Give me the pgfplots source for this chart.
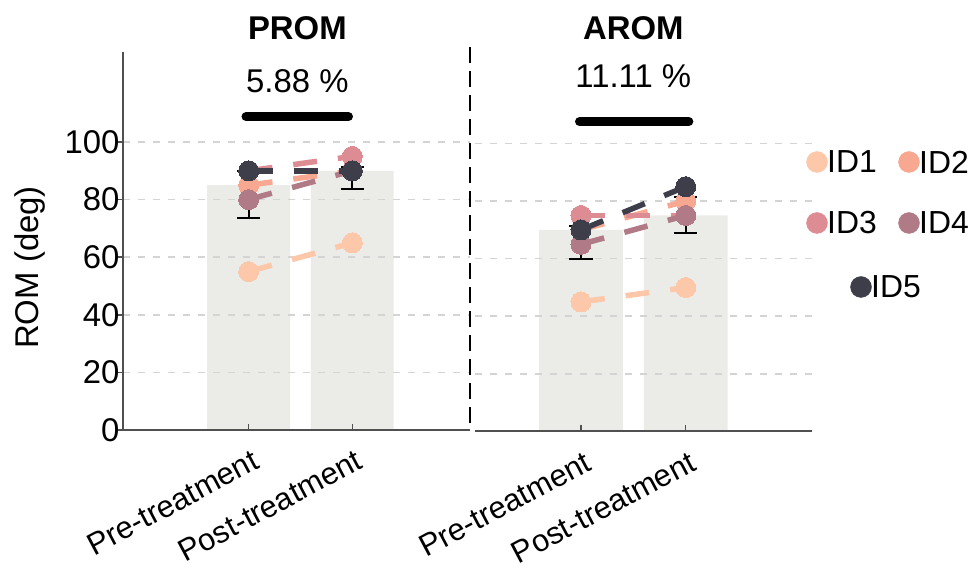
\documentclass[border=0pt]{standalone}
\usepackage{pgfplots}
\pgfplotsset{compat=1.18}
\usepackage{fontspec}
\setmainfont{Liberation Sans}
\newcommand\fs{\fontsize{33}{39}\selectfont}
\newcommand\fx{\fontsize{31}{37}\selectfont}
\newcommand\fl{\fontsize{32}{38}\selectfont}
\definecolor{cA}{HTML}{FDC8AA}
\definecolor{cB}{HTML}{F8A891}
\definecolor{cC}{HTML}{DE8C94}
\definecolor{cD}{HTML}{B07B87}
\definecolor{cE}{HTML}{3E3E4A}
\definecolor{barc}{HTML}{EBEBE7}
\definecolor{axc}{HTML}{505050}
\pgfplotsset{
  myaxis/.style={
    scale only axis, set layers, clip=false,
    anchor=south west,
    axis lines*=left,
    axis line style={line width=2bp, color=axc, -},
    tick align=inside,
    major tick length=6bp,
    tick style={line width=1.5bp, color=axc},
    ymin=0, ymax=131.25, height=378bp,
    ytick={0,20,...,100},
    ymajorgrids,
    major grid style={line width=1.6bp, color=black!17, dash pattern=on 7bp off 8bp},
    xtick={1,2}, xticklabels={Pre-treatment,Post-treatment},
    xticklabel style={xshift=3bp, yshift=-16bp, rotate=28, anchor=north east, font=\fx, inner sep=2bp},
    yticklabel style={font=\fs},
    /pgf/number format/assume math mode=true,
  },
  idline/.style={#1, line width=5.5bp, dash pattern=on 24bp off 21bp, mark=*, mark size=10bp, mark options={solid, line width=0pt}},
  barstyle/.style={ybar, bar width=0.8, fill=barc, draw=none, on layer=axis background},
  errline/.style={black, line width=2bp, mark=none, solid},
}
\begin{document}
\begin{tikzpicture}
% ---------------- PROM ----------------
\begin{axis}[myaxis, at={(123bp,144bp)}, width=347bp,
  xmin=-0.213, xmax=3.136,
  ylabel={\fs ROM (deg)},
  every axis y label/.style={at={(axis description cs:-0.268,0.43)}, rotate=90, anchor=center},
  ytick style={xshift=-6bp},
]
\addplot[barstyle] coordinates {(1,85) (2,90)};
% error bars: 25th to 75th percentile
\addplot[errline] coordinates {(1,73.75) (1,90)};
\addplot[errline] coordinates {(0.89,73.75) (1.11,73.75)};
\addplot[errline] coordinates {(0.89,90) (1.11,90)};
\addplot[errline] coordinates {(2,83.75) (2,91.25)};
\addplot[errline] coordinates {(1.89,83.75) (2.11,83.75)};
\addplot[errline] coordinates {(1.89,91.25) (2.11,91.25)};
\addplot[idline=cA] coordinates {(1,55) (2,65)};
\addplot[idline=cB] coordinates {(1,85) (2,90)};
\addplot[idline=cC] coordinates {(1,90) (2,95)};
\addplot[idline=cD] coordinates {(1,80) (2,90)};
\addplot[idline=cE] coordinates {(1,90) (2,90)};
\addplot[black, line width=9bp, line cap=round, mark=none] coordinates {(0.974,108.8) (1.963,108.8)};
\addplot[black, line width=2bp, dash pattern=on 16bp off 8bp, mark=none] coordinates {(3.136,133) (3.136,0)};
\node[font=\fs] at (axis cs:1.47,121.2) {5.88 \%};
\node[font=\fs\bfseries] at (axis cs:1.47,139.6) {PROM};
\end{axis}
% ---------------- AROM ----------------
\begin{axis}[myaxis, at={(475bp,142.5bp)}, width=337bp,
  xmin=-0.012, xmax=3.206,
  y axis line style={draw=none}, ytick style={draw=none}, yticklabels={},
]
\addplot[barstyle] coordinates {(1,70) (2,75)};
\addplot[errline] coordinates {(1,60) (1,71.25)};
\addplot[errline] coordinates {(0.89,60) (1.11,60)};
\addplot[errline] coordinates {(0.89,71.25) (1.11,71.25)};
\addplot[errline] coordinates {(2,68.75) (2,81.25)};
\addplot[errline] coordinates {(1.89,68.75) (2.11,68.75)};
\addplot[errline] coordinates {(1.89,81.25) (2.11,81.25)};
\addplot[idline=cA] coordinates {(1,45) (2,50)};
\addplot[idline=cB] coordinates {(1,70) (2,80)};
\addplot[idline=cC] coordinates {(1,75) (2,75)};
\addplot[idline=cD] coordinates {(1,65) (2,75)};
\addplot[idline=cE] coordinates {(1,70) (2,85)};
\addplot[black, line width=9bp, line cap=round, mark=none] coordinates {(0.986,107.6) (2.03,107.6)};
\node[font=\fs] at (axis cs:1.5,123.4) {11.11 \%};
\node[font=\fs\bfseries] at (axis cs:1.5,140.1) {AROM};
\end{axis}
% ---------------- legend ----------------
\begin{axis}[scale only axis, hide axis, clip=false, anchor=south west,
  at={(800bp,264bp)}, width=170bp, height=170bp,
  xmin=800, xmax=970, ymin=-310, ymax=-140,
  legpt/.style={only marks, mark=*, mark size=10.5bp, color=#1,
    nodes near coords, point meta=explicit symbolic,
    nodes near coords style={anchor=west, xshift=10bp, inner sep=0pt, text=black, font=\fl}},
]
\addplot[legpt=cA] coordinates {(817,-162) [ID1]};
\addplot[legpt=cB] coordinates {(909,-162) [ID2]};
\addplot[legpt=cC] coordinates {(817,-223) [ID3]};
\addplot[legpt=cD] coordinates {(909,-223) [ID4]};
\addplot[legpt=cE] coordinates {(861,-287) [ID5]};
\end{axis}
\pgfresetboundingbox
\path[use as bounding box] (0,0) rectangle (970bp,574bp);
\end{tikzpicture}
\end{document}
